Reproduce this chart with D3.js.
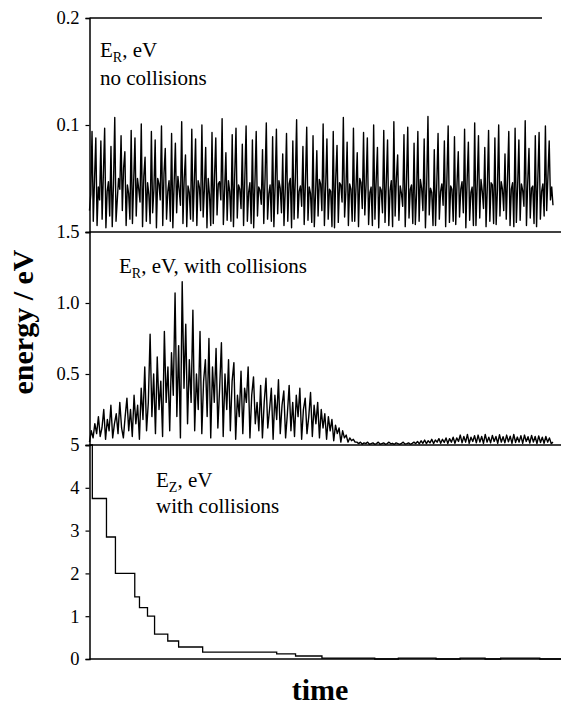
<!DOCTYPE html>
<html>
<head>
<meta charset="utf-8">
<script src="https://cdn.jsdelivr.net/npm/d3@7"></script>
<style>
  body { margin: 0; background: #fff; }
  svg, svg text { font-family: "Liberation Serif", "Times New Roman", Times, "DejaVu Serif", serif; }
</style>
</head>
<body>
<div id="chart"></div>
<script>
// E_R without collisions (eV), evenly sampled in time
const erNoColl = [
  0.02,0.035,0.094,0.01,0.05,0.088,0.006,0.042,
  0.03,0.085,0.012,0.055,0.097,0.004,0.038,0.047,
  0.015,0.08,0.005,0.045,0.107,0.01,0.03,0.05,
  0.04,0.09,0.02,0.06,0.075,0.006,0.044,0.036,
  0.012,0.095,0.008,0.048,0.088,0.015,0.05,0.04,
  0.028,0.101,0.005,0.052,0.07,0.01,0.046,0.035,
  0.008,0.094,0.018,0.04,0.086,0.004,0.05,0.045,
  0.03,0.099,0.006,0.055,0.078,0.012,0.038,0.048,
  0.01,0.092,0.004,0.045,0.083,0.018,0.052,0.04,
  0.025,0.103,0.008,0.05,0.072,0.005,0.043,0.037,
  0.012,0.096,0.01,0.047,0.087,0.006,0.048,0.042,
  0.02,0.1,0.014,0.041,0.079,0.004,0.05,0.035,
  0.006,0.093,0.008,0.052,0.088,0.016,0.045,0.047,
  0.03,0.106,0.007,0.04,0.074,0.011,0.048,0.038,
  0.01,0.091,0.005,0.054,0.097,0.013,0.044,0.04,
  0.022,0.082,0.006,0.051,0.099,0.01,0.037,0.046,
  0.008,0.086,0.004,0.046,0.094,0.015,0.042,0.039,
  0.026,0.077,0.008,0.05,0.102,0.012,0.036,0.044,
  0.01,0.089,0.005,0.044,0.096,0.017,0.048,0.041,
  0.018,0.073,0.006,0.04,0.092,0.01,0.045,0.05,
  0.004,0.085,0.012,0.05,0.105,0.013,0.038,0.043,
  0.024,0.08,0.007,0.047,0.098,0.011,0.042,0.036,
  0.009,0.09,0.005,0.036,0.076,0.015,0.049,0.045,
  0.02,0.101,0.006,0.043,0.087,0.012,0.04,0.038,
  0.005,0.094,0.004,0.051,0.081,0.009,0.046,0.044,
  0.028,0.107,0.014,0.038,0.084,0.006,0.045,0.04,
  0.01,0.097,0.01,0.041,0.074,0.005,0.05,0.046,
  0.022,0.093,0.016,0.044,0.088,0.007,0.037,0.042,
  0.006,0.1,0.012,0.048,0.079,0.004,0.042,0.039,
  0.018,0.095,0.009,0.046,0.086,0.006,0.039,0.048,
  0.005,0.103,0.015,0.05,0.072,0.011,0.043,0.036,
  0.024,0.091,0.005,0.047,0.098,0.013,0.04,0.044,
  0.008,0.083,0.007,0.036,0.094,0.01,0.049,0.041,
  0.02,0.087,0.004,0.044,0.108,0.016,0.041,0.037,
  0.006,0.077,0.006,0.046,0.092,0.012,0.038,0.045,
  0.025,0.085,0.005,0.05,0.099,0.009,0.043,0.04,
  0.01,0.089,0.007,0.045,0.075,0.014,0.04,0.047,
  0.018,0.096,0.004,0.048,0.084,0.011,0.037,0.042,
  0.006,0.102,0.006,0.044,0.09,0.013,0.049,0.038,
  0.022,0.079,0.005,0.042,0.095,0.01,0.046,0.044,
  0.008,0.088,0.007,0.039,0.1,0.015,0.047,0.04,
  0.02,0.073,0.012,0.05,0.094,0.006,0.04,0.046,
  0.005,0.097,0.009,0.043,0.086,0.011,0.045,0.039,
  0.024,0.104,0.006,0.047,0.078,0.013,0.041,0.043,
  0.008,0.09,0.005,0.05,0.093,0.012,0.038,0.045,
  0.015,0.099,0.02,0.052,0.085,0.03,0.042,0.025
];

// E_R with collisions (eV)
const erColl = [
  0.02,0.1,0.05,0.15,0.08,0.2,0.06,0.12,0.25,0.04,0.18,0.1,0.28,0.05,0.15,
  0.22,0.08,0.3,0.12,0.05,0.2,0.33,0.1,0.25,0.06,0.35,0.15,0.28,0.04,0.4,
  0.18,0.55,0.1,0.3,0.78,0.2,0.5,0.08,0.62,0.25,0.45,0.06,0.8,0.3,0.55,
  0.1,0.65,0.35,1.07,0.2,0.7,0.05,1.15,0.4,0.85,0.15,0.6,0.3,0.95,0.1,
  0.5,0.25,0.8,0.08,0.45,0.6,0.2,0.75,0.05,0.55,0.3,0.68,0.12,0.4,0.72,
  0.06,0.5,0.25,0.6,0.1,0.45,0.58,0.04,0.35,0.2,0.52,0.08,0.4,0.3,0.55,
  0.05,0.35,0.48,0.15,0.3,0.1,0.42,0.05,0.3,0.47,0.12,0.25,0.4,0.04,0.35,
  0.18,0.46,0.08,0.28,0.38,0.05,0.22,0.42,0.1,0.3,0.06,0.35,0.2,0.4,0.04,
  0.25,0.33,0.08,0.2,0.37,0.06,0.28,0.15,0.3,0.05,0.25,0.12,0.22,0.04,0.2,
  0.1,0.18,0.03,0.14,0.08,0.12,0.02,0.1,0.05,0.07,0.02,0.05,0.03,0.04,0.02,
  0.02,0.01,0.02,0.005,0.015,0.01,0.02,0.005,0.01,0.015,0.005,0.01,0.02,0.005,0.01,
  0.015,0.005,0.01,0.02,0.008,0.012,0.005,0.015,0.01,0.005,0.012,0.02,0.006,0.01,0.015,
  0.005,0.012,0.02,0.01,0.025,0.008,0.03,0.012,0.035,0.01,0.03,0.015,0.04,0.01,0.035,
  0.02,0.045,0.012,0.04,0.018,0.05,0.01,0.045,0.02,0.055,0.012,0.05,0.025,0.07,0.015,
  0.06,0.02,0.075,0.012,0.055,0.025,0.065,0.015,0.07,0.02,0.06,0.012,0.075,0.02,0.055,
  0.015,0.068,0.025,0.06,0.012,0.072,0.02,0.058,0.015,0.07,0.022,0.062,0.012,0.074,0.018,
  0.056,0.02,0.066,0.012,0.07,0.025,0.058,0.014,0.068,0.02,0.06,0.01,0.064,0.018,0.055,
  0.012,0.06,0.02,0.05,0.01,0.02
];

// E_Z with collisions (eV), stepwise
const ezTimes  = [0, 0.6, 3.6, 5.5, 9.6, 10.6, 12.3, 13.8, 16.6, 18.9, 24.0, 39.7, 43.7, 49.3, 60.5, 65.5, 73.5, 78.6, 83.9, 87.2, 95.5, 98.5, 100];
const ezValues = [5, 3.75, 2.85, 2.0, 1.45, 1.2, 1.0, 0.58, 0.42, 0.28, 0.16, 0.12, 0.07, 0.02, 0.0, 0.02, 0.0, 0.02, 0.0, 0.02, 0.0, 0.0, 0.0];

const ticks1 = [0.1, 0.2];
const ticks2 = [0.5, 1.0, 1.5];
const ticks3 = [0, 1, 2, 3, 4, 5];
const tickText1 = ["0.1", "0.2"];
const tickText2 = ["0.5", "1.0", "1.5"];
const tickText3 = ["0", "1", "2", "3", "4", "5"];

const serif = '"Liberation Serif", "Times New Roman", Times, "DejaVu Serif", serif';

const width = 561, height = 705;
const left = 89.5, right = 561;
const tEnd = 98.3;

const svg = d3.select("#chart").append("svg")
  .attr("width", width)
  .attr("height", height)
  .attr("font-family", serif);

const x = d3.scaleLinear().domain([0, 100]).range([left, right]);

const y1 = d3.scaleLinear().domain([0, 0.2]).range([232, 18]);
const y2 = d3.scaleLinear().domain([0, 1.5]).range([445, 232]);
const y3 = d3.scaleLinear().domain([0, 5]).range([659, 445]);

function tAt(arr) {
  return (d, i) => x(i * tEnd / (arr.length - 1));
}

// traces
svg.append("path")
  .datum(erNoColl)
  .attr("fill", "none")
  .attr("stroke", "#000")
  .attr("stroke-width", 1.4)
  .attr("stroke-linejoin", "round")
  .attr("d", d3.line().x(tAt(erNoColl)).y(d => y1(d)));

svg.append("path")
  .datum(erColl)
  .attr("fill", "none")
  .attr("stroke", "#000")
  .attr("stroke-width", 1.4)
  .attr("stroke-linejoin", "round")
  .attr("d", d3.line().x(tAt(erColl)).y(d => y2(d)));

svg.append("path")
  .datum(ezTimes.map((t, i) => [t, ezValues[i]]))
  .attr("fill", "none")
  .attr("stroke", "#000")
  .attr("stroke-width", 1.3)
  .attr("d", d3.line().curve(d3.curveStepAfter).x(d => x(d[0])).y(d => y3(d[1])));

// frame lines
svg.append("line").attr("x1", left).attr("x2", 542).attr("y1", 18).attr("y2", 18)
  .attr("stroke", "#000").attr("stroke-width", 1.3);
[232, 445, 659].forEach(yy => {
  svg.append("line").attr("x1", left).attr("x2", right).attr("y1", yy).attr("y2", yy)
    .attr("stroke", "#000").attr("stroke-width", 1.5);
});

// y axes
function yAxis(scale, vals, labels) {
  const g = svg.append("g").attr("transform", `translate(${left},0)`)
    .call(d3.axisLeft(scale).tickValues(vals).tickSize(4).tickPadding(6)
      .tickFormat((d, i) => labels[i]));
  g.attr("font-family", serif).attr("font-size", 18.5);
  g.select(".domain").attr("stroke-width", 1.5);
  g.selectAll(".tick line").attr("stroke-width", 1.2);
  g.selectAll("text").attr("fill", "#000");
  return g;
}
yAxis(y1, ticks1, tickText1);
yAxis(y2, ticks2, tickText2);
yAxis(y3, ticks3, tickText3);

// annotations
function label(xp, yp, main, sub, rest) {
  const t = svg.append("text").attr("x", xp).attr("y", yp)
    .attr("font-family", serif).attr("font-size", 21).attr("fill", "#000");
  t.append("tspan").text(main);
  if (sub) {
    t.append("tspan").attr("font-size", 14).attr("dy", 5).text(sub);
    t.append("tspan").attr("dy", -5).text(rest);
  }
}
label(100, 57, "E", "R", ", eV");
label(100, 85, "no collisions");
label(119, 273, "E", "R", ", eV, with collisions");
label(156, 487, "E", "Z", ", eV");
label(156, 513, "with collisions");

// axis titles
svg.append("text")
  .attr("transform", "translate(33,322) rotate(-90)")
  .attr("text-anchor", "middle")
  .attr("font-family", serif)
  .attr("font-size", 30)
  .attr("font-weight", "bold")
  .text("energy / eV");

svg.append("text")
  .attr("x", 320).attr("y", 700)
  .attr("text-anchor", "middle")
  .attr("font-family", serif)
  .attr("font-size", 30)
  .attr("font-weight", "bold")
  .text("time");
</script>
</body>
</html>
